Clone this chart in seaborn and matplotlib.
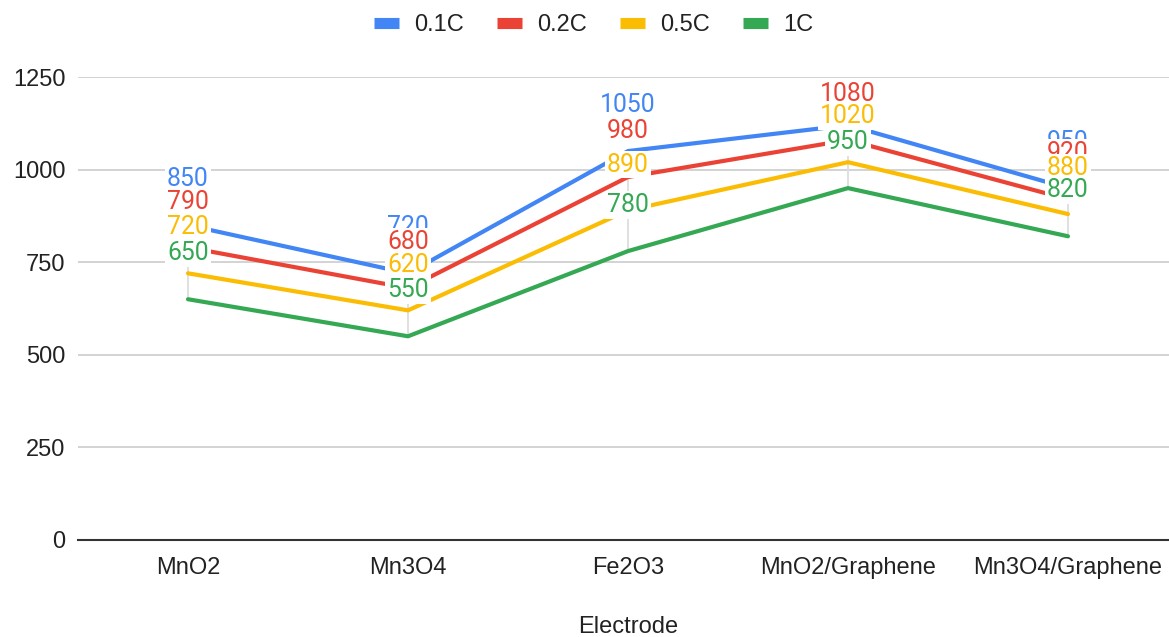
import matplotlib
matplotlib.use("Agg")
import matplotlib.pyplot as plt
from matplotlib.lines import Line2D
import numpy as np
import pandas as pd
import seaborn as sns

# Discharge capacity by electrode material at four C-rates
electrodes = ["MnO2", "Mn3O4", "Fe2O3", "MnO2/Graphene", "Mn3O4/Graphene"]
rates = ["0.1C", "0.2C", "0.5C", "1C"]
cap_01c = [850, 720, 1050, 1120, 950]
cap_02c = [790, 680, 980, 1080, 920]
cap_05c = [720, 620, 890, 1020, 880]
cap_1c = [650, 550, 780, 950, 820]
y_ticks = [0, 250, 500, 750, 1000, 1250]
colors = ["#4285F4", "#EA4335", "#FBBC04", "#34A853"]
# value labels left out where they would crowd the top of the stack
hidden_labels = {("0.1C", "MnO2/Graphene")}

series = dict(zip(rates, [cap_01c, cap_02c, cap_05c, cap_1c]))
df = pd.DataFrame(
    [(e, r, v) for r in rates for e, v in zip(electrodes, series[r])],
    columns=["Electrode", "Rate", "Capacity"],
)

sns.set_theme(style="white")
plt.rcParams["font.family"] = ["Liberation Sans", "DejaVu Sans"]

fig = plt.figure(figsize=(11.69, 6.37), dpi=100)
ax = fig.add_axes([78 / 1169, 97 / 637, 1100 / 1169, 463 / 637])

# faint vertical guides spanning each category's value range
for i, e in enumerate(electrodes):
    vals = [series[r][i] for r in rates]
    ax.plot([i, i], [min(vals), max(vals)], color="#dddddd", lw=1.3, zorder=1)

sns.lineplot(
    data=df, x="Electrode", y="Capacity", hue="Rate", hue_order=rates,
    palette=colors, linewidth=3.0, sort=False, legend=False, ax=ax, zorder=3,
)

# value labels, green drawn last so it sits on top
for r, c in zip(rates, colors):
    for i, (e, v) in enumerate(zip(electrodes, series[r])):
        if (r, e) in hidden_labels:
            continue
        ax.annotate(
            str(v), (i, v), xytext=(0, 33), textcoords="offset points",
            ha="center", va="center", fontsize=17.8, color=c,
            family=["Roboto", "DejaVu Sans"], zorder=5,
            bbox=dict(boxstyle="square,pad=0.08", fc="white", ec="none"),
        )

ax.set_xlim(-0.5, 4.5)
ax.set_ylim(0, 1250)
ax.set_yticks(y_ticks)
ax.set_yticklabels([str(t) for t in y_ticks])
ax.yaxis.grid(True, color="#cccccc", lw=1.2)
ax.xaxis.grid(False)
ax.set_axisbelow(True)
for s in ["top", "right", "left"]:
    ax.spines[s].set_visible(False)
ax.spines["bottom"].set_color("#333333")
ax.spines["bottom"].set_linewidth(1.5)
ax.spines["bottom"].set_zorder(2)
ax.tick_params(axis="both", length=0, labelsize=17, labelcolor="#222222")
ax.tick_params(axis="x", pad=12)
ax.tick_params(axis="y", pad=9)
ax.set_ylabel("")
ax.set_xlabel("Electrode", fontsize=17, color="#222222", labelpad=27)

handles = [Line2D([0], [0], color=c, lw=8, solid_capstyle="butt") for c in colors]
fig.legend(
    handles, rates, loc="center", bbox_to_anchor=(594 / 1169, 1 - 25 / 637),
    ncol=4, frameon=False, fontsize=17, handlelength=1.05, handletextpad=0.65,
    columnspacing=1.4, labelcolor="#222222",
)

fig.savefig("out.png", dpi=100)
